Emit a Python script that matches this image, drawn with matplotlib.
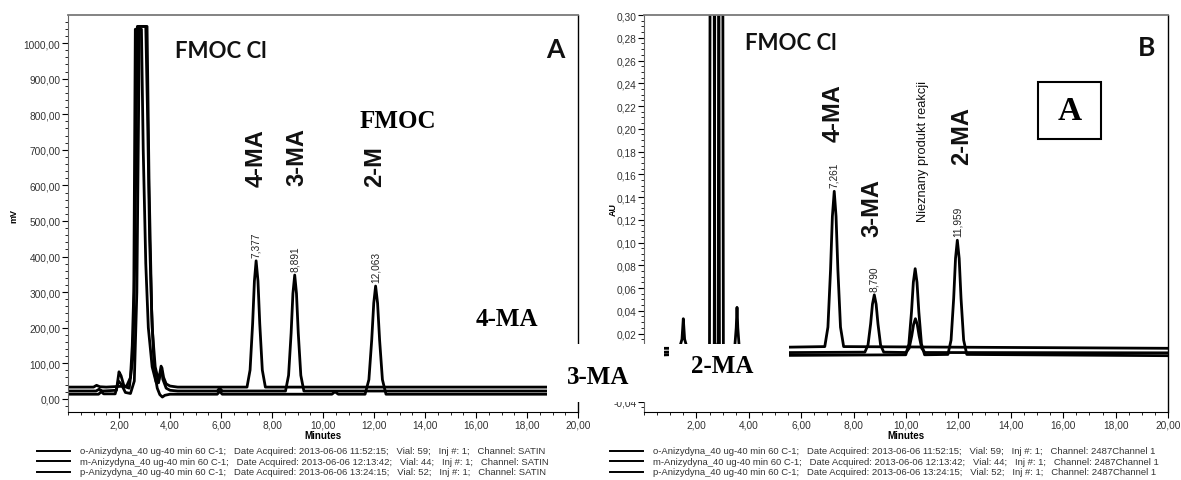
import numpy as np
import matplotlib.pyplot as plt
from matplotlib.patches import Rectangle
from matplotlib.lines import Line2D
from matplotlib.ticker import MultipleLocator, FuncFormatter

W, H = 1181, 481

# ---- left chromatogram (mV), three traces ----
left_p_t = [0, 1.0, 1.12, 1.25, 1.5, 2.3, 2.45, 2.52, 2.58, 2.64, 2.88, 2.95, 3.05, 3.15, 3.3, 3.45, 3.55,
            3.62, 3.68, 3.75, 3.85, 4.0, 4.3, 7.02, 7.14, 7.24, 7.31, 7.377, 7.45, 7.52, 7.62, 7.74, 20]
left_p_y = [33, 33, 38, 34, 33, 36, 60, 150, 300, 1039, 1039, 700, 380, 200, 90, 48, 45,
            70, 88, 60, 42, 36, 33, 33, 81, 211, 331, 388, 331, 211, 81, 33, 33]

left_m_t = [0, 1.1, 1.22, 1.35, 1.9, 2.0, 2.08, 2.2, 2.4, 2.55, 2.62, 2.72, 3.05, 3.12, 3.2, 3.3, 3.42,
            3.55, 3.65, 3.72, 3.85, 4.0, 4.3, 5.85, 5.95, 6.05, 8.53, 8.65, 8.75, 8.82, 8.891, 8.96,
            9.03, 9.13, 9.25, 20]
left_m_y = [22, 22, 27, 22, 24, 76, 65, 35, 30, 120, 400, 1047, 1047, 800, 450, 200, 90,
            50, 92, 55, 30, 24, 22, 22, 30, 22, 22, 66, 185, 296, 348, 296,
            185, 66, 22, 22]

left_o_t = [0, 1.2, 1.3, 1.4, 1.85, 1.98, 2.1, 2.25, 2.45, 2.6, 2.7, 2.8, 3.1, 3.18, 3.28, 3.38, 3.5,
            3.6, 3.7, 3.8, 4.0, 5.85, 5.95, 6.05, 10.35, 10.47, 10.6, 11.65, 11.80, 11.91, 11.99,
            12.063, 12.14, 12.22, 12.33, 12.47, 20]
left_o_y = [13, 13, 20, 14, 14, 50, 40, 18, 15, 50, 300, 1047, 1047, 600, 250, 80, 30,
            12, 5, 10, 13, 13, 21, 13, 13, 20, 13, 13, 54, 165, 269,
            317, 269, 165, 54, 13, 13]

left_peaks = [7.377, 8.891, 12.063]
left_peak_h = [388, 348, 317]
left_peak_txt = ["7,377", "8,891", "12,063"]

# ---- right chromatogram (AU) ----
right_p_t = [0, 1.35, 1.45, 1.5, 1.55, 1.65, 2.5, 2.6, 2.7, 2.8, 6.90, 7.02, 7.12, 7.19, 7.261,
             7.33, 7.40, 7.50, 7.62, 20]
right_p_y = [0.007, 0.007, 0.015, 0.033, 0.015, 0.007, 0.009, 1.5, 0.012, 0.007, 0.0085, 0.0256,
             0.076, 0.123, 0.145, 0.123, 0.076, 0.0256, 0.0085, 0.007]

right_m_t = [0, 2.68, 2.78, 2.88, 3.0, 3.45, 3.52, 3.55, 3.58, 3.65, 8.43, 8.55, 8.65, 8.72, 8.79,
             8.86, 8.93, 9.03, 9.15, 10.0, 10.12, 10.22, 10.29, 10.36, 10.43, 10.5, 10.6, 10.72, 20]
right_m_y = [0.003, 0.005, 1.5, 0.006, 0.003, 0.004, 0.025, 0.043, 0.025, 0.003, 0.0036, 0.0099,
             0.0285, 0.0458, 0.054, 0.0458, 0.0285, 0.0099, 0.0036, 0.0033, 0.007, 0.018, 0.028,
             0.033, 0.028, 0.018, 0.007, 0.0033, 0.003]

right_o_t = [0, 2.83, 2.93, 3.03, 3.15, 9.99, 10.11, 10.21, 10.28, 10.35, 10.42, 10.49, 10.59,
             10.71, 11.60, 11.72, 11.82, 11.89, 11.959, 12.03, 12.10, 12.20, 12.32, 20]
right_o_y = [0.0005, 0.003, 1.5, 0.003, 0.0005, 0.0013, 0.0108, 0.039, 0.065, 0.077, 0.065,
             0.039, 0.0108, 0.0013, 0.0016, 0.0142, 0.051, 0.086, 0.102, 0.086, 0.051, 0.0142,
             0.0016, 0.0005]

right_peaks = [7.261, 8.790, 11.959]
right_peak_h = [0.145, 0.054, 0.102]
right_peak_txt = ["7,261", "8,790", "11,959"]

left_legend = [
    "o-Anizydyna_40 ug-40 min 60 C-1;   Date Acquired: 2013-06-06 11:52:15;   Vial: 59;   Inj #: 1;   Channel: SATIN",
    "m-Anizydyna_40 ug-40 min 60 C-1;   Date Acquired: 2013-06-06 12:13:42;   Vial: 44;   Inj #: 1;   Channel: SATIN",
    "p-Anizydyna_40 ug-40 min 60 C-1;   Date Acquired: 2013-06-06 13:24:15;   Vial: 52;   Inj #: 1;   Channel: SATIN",
]
right_legend = [s.replace("Channel: SATIN", "Channel: 2487Channel 1") for s in left_legend]

plt.rcParams['font.family'] = ['Liberation Sans', 'DejaVu Sans']


def px(x, y):
    # pixel position (from top-left) to figure fraction
    return x / W, 1 - y / H


def comma(fmt, hide=None):
    def f(v, pos):
        if hide is not None and hide[0] < v < hide[1]:
            return ""  # covered by the pasted white patch anyway
        return fmt.format(v).replace('.', ',')
    return FuncFormatter(f)


fig = plt.figure(figsize=(W / 100, H / 100), dpi=100)

ax1 = fig.add_axes([68 / W, 1 - 413 / H, 510 / W, 397 / H])
ax2 = fig.add_axes([644 / W, 1 - 413 / H, 524 / W, 397 / H])

for t, y in [(left_p_t, left_p_y), (left_m_t, left_m_y), (left_o_t, left_o_y)]:
    ax1.plot(t, y, color='black', lw=2.0)
for t, y in [(right_p_t, right_p_y), (right_m_t, right_m_y), (right_o_t, right_o_y)]:
    ax2.plot(t, y, color='black', lw=2.0)

ax1.set_xlim(0, 20)
ax1.set_ylim(-37, 1079)
ax2.set_xlim(0, 20)
ax2.set_ylim(-0.049, 0.30)

ax1.set_xticks(np.arange(2, 21, 2))
ax1.set_yticks(np.arange(0, 1001, 100))
ax1.xaxis.set_minor_locator(MultipleLocator(0.5))
ax1.yaxis.set_minor_locator(MultipleLocator(20))
ax1.xaxis.set_major_formatter(comma("{:.2f}"))
ax1.yaxis.set_major_formatter(comma("{:.2f}"))

ax2.set_xticks(np.arange(2, 21, 2))
ax2.set_yticks(np.arange(-0.04, 0.301, 0.02))
ax2.xaxis.set_minor_locator(MultipleLocator(0.5))
ax2.yaxis.set_minor_locator(MultipleLocator(0.005))
ax2.xaxis.set_major_formatter(comma("{:.2f}"))
ax2.yaxis.set_major_formatter(comma("{:.2f}", hide=(-0.03, 0.01)))

for ax in (ax1, ax2):
    ax.tick_params(which='major', length=4, width=0.8, labelsize=7.3, labelcolor='#333333', pad=1.5)
    ax.tick_params(which='minor', length=2.5, width=0.6)
    ax.spines['top'].set_color('#7a7a7a')
    ax.spines['top'].set_linewidth(1.3)
    ax.spines['left'].set_color('#666666')
    ax.spines['right'].set_linewidth(1.0)
    ax.set_xlabel("Minutes", fontsize=7, fontweight='bold', labelpad=0)

for t, h, s in zip(left_peaks, left_peak_h, left_peak_txt):
    ax1.annotate(s, (t, h), xytext=(0, 3), textcoords='offset points', rotation=90,
                 ha='center', va='bottom', fontsize=7.3, color='#222222')
for t, h, s in zip(right_peaks, right_peak_h, right_peak_txt):
    ax2.annotate(s, (t, h), xytext=(0, 3), textcoords='offset points', rotation=90,
                 ha='center', va='bottom', fontsize=7.3, color='#222222')

fig.text(*px(14, 216), "mV", rotation=90, ha='center', va='center', fontsize=6.5, fontweight='bold')
fig.text(*px(613, 210), "AU", rotation=90, ha='center', va='center', fontsize=6.5, fontweight='bold')

# bold labels written over the chromatograms
sans = dict(family=['Lato', 'DejaVu Sans'], fontweight='bold', color='#111111')
arial = dict(family=['Liberation Sans', 'DejaVu Sans'], fontweight='bold', color='#111111')
serif = dict(family=['Liberation Serif', 'DejaVu Serif'], fontweight='bold', color='black')

fig.text(*px(221, 52), "FMOC Cl", ha='center', va='center', fontsize=16, **sans)
fig.text(*px(555, 50), "A", ha='center', va='center', fontsize=19, **sans)
fig.text(*px(256, 158), "4-MA", rotation=90, ha='center', va='center', fontsize=17, **arial)
fig.text(*px(297, 157), "3-MA", rotation=90, ha='center', va='center', fontsize=17, **arial)
fig.text(*px(375, 167), "2-M", rotation=90, ha='center', va='center', fontsize=17, **arial)
fig.text(*px(398, 122), "FMOC", ha='center', va='center', fontsize=18, **serif)
fig.text(*px(507, 320), "4-MA", ha='center', va='center', fontsize=18, **serif)

fig.text(*px(791, 43), "FMOC Cl", ha='center', va='center', fontsize=16, **sans)
fig.text(*px(1147, 48), "B", ha='center', va='center', fontsize=19, **sans)
fig.text(*px(833, 113), "4-MA", rotation=90, ha='center', va='center', fontsize=17, **arial)
fig.text(*px(872, 208), "3-MA", rotation=90, ha='center', va='center', fontsize=17, **arial)
fig.text(*px(923, 151), "Nieznany produkt reakcji", rotation=90, ha='center', va='center',
         fontsize=9.3, family=['Liberation Sans', 'DejaVu Sans'], color='#111111')
fig.text(*px(962, 136), "2-MA", rotation=90, ha='center', va='center', fontsize=17, **arial)

fig.add_artist(Rectangle(px(1038, 140), 63 / W, 57 / H, transform=fig.transFigure,
                         facecolor='white', edgecolor='black', lw=1.5, zorder=10))
fig.text(*px(1070, 112), "A", ha='center', va='center', fontsize=24, zorder=11, **serif)

# white patches pasted over the figure
fig.add_artist(Rectangle(px(547, 403), 117 / W, 58 / H, transform=fig.transFigure,
                         facecolor='white', edgecolor='none', zorder=10))
fig.add_artist(Rectangle(px(669, 401), 120 / W, 56 / H, transform=fig.transFigure,
                         facecolor='white', edgecolor='none', zorder=10))
fig.text(*px(598, 378), "3-MA", ha='center', va='center', fontsize=18, zorder=11, **serif)
fig.text(*px(722, 367), "2-MA", ha='center', va='center', fontsize=18, zorder=11, **serif)

# legends under each panel
for x0, x1, xt, rows in [(37, 70, 80, left_legend), (610, 643, 653, right_legend)]:
    for i, s in enumerate(rows):
        y = 452 + 10.3 * i
        fig.add_artist(Line2D([x0 / W, x1 / W], [1 - y / H] * 2, transform=fig.transFigure,
                              color='black', lw=1.4))
        fig.text(xt / W, 1 - y / H, s, ha='left', va='center', fontsize=6.8, color='#333333')

fig.savefig("out.png", dpi=100)
